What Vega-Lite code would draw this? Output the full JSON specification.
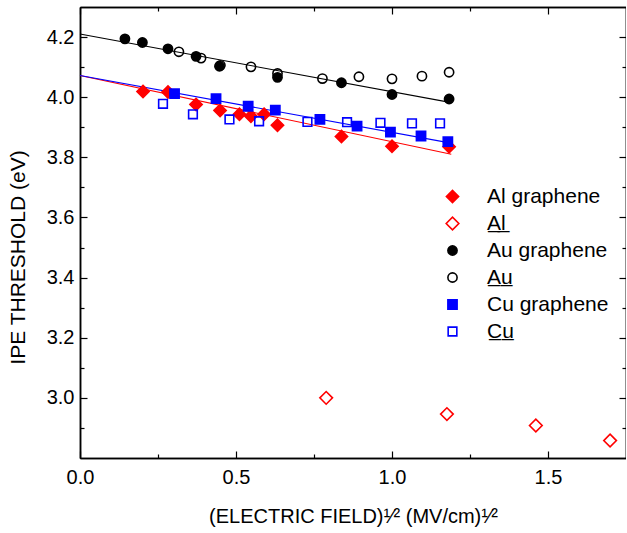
{
  "$schema": "https://vega.github.io/schema/vega-lite/v6.json",
  "autosize": {"type": "none"},
  "padding": {"left": 80, "top": 7, "right": 0, "bottom": 75},
  "width": 546,
  "height": 451,
  "background": "white",
  "config": {
    "font": "Liberation Sans",
    "view": {"stroke": null},
    "axis": {
      "grid": false,
      "domainColor": "black",
      "domainWidth": 1.5,
      "tickColor": "black",
      "tickWidth": 1.2,
      "labelColor": "black",
      "labelFontSize": 20,
      "titleFontSize": 20,
      "titleFontWeight": "normal",
      "titleColor": "black",
      "labelFont": "Liberation Sans",
      "titleFont": "Liberation Sans",
      "labelFlush": false
    },
    "legend": {"labelFont": "Liberation Sans"}
  },
  "datasets": {
    "fits": [
      {"fit": "Al", "x": 0, "y": 4.072},
      {"fit": "Al", "x": 1.19, "y": 3.81},
      {"fit": "Au", "x": 0, "y": 4.21},
      {"fit": "Au", "x": 1.19, "y": 3.982},
      {"fit": "Cu", "x": 0, "y": 4.072},
      {"fit": "Cu", "x": 1.185, "y": 3.848}
    ],
    "pts": [
      {"series": "Al graphene", "x": 0.202, "y": 4.019},
      {"series": "Al graphene", "x": 0.282, "y": 4.017},
      {"series": "Al graphene", "x": 0.372, "y": 3.976},
      {"series": "Al graphene", "x": 0.449, "y": 3.956},
      {"series": "Al graphene", "x": 0.511, "y": 3.943},
      {"series": "Al graphene", "x": 0.548, "y": 3.937},
      {"series": "Al graphene", "x": 0.590, "y": 3.943},
      {"series": "Al graphene", "x": 0.633, "y": 3.907},
      {"series": "Al graphene", "x": 0.838, "y": 3.869},
      {"series": "Al graphene", "x": 1.0, "y": 3.837},
      {"series": "Al graphene", "x": 1.183, "y": 3.835},
      {"series": "Al", "x": 0.789, "y": 3.0},
      {"series": "Al", "x": 1.176, "y": 2.946},
      {"series": "Al", "x": 1.461, "y": 2.908},
      {"series": "Al", "x": 1.699, "y": 2.858},
      {"series": "Au graphene", "x": 0.144, "y": 4.194},
      {"series": "Au graphene", "x": 0.200, "y": 4.182},
      {"series": "Au graphene", "x": 0.282, "y": 4.161},
      {"series": "Au graphene", "x": 0.372, "y": 4.136},
      {"series": "Au graphene", "x": 0.447, "y": 4.103},
      {"series": "Au graphene", "x": 0.633, "y": 4.066},
      {"series": "Au graphene", "x": 0.838, "y": 4.048},
      {"series": "Au graphene", "x": 1.0, "y": 4.009},
      {"series": "Au graphene", "x": 1.183, "y": 3.994},
      {"series": "Au", "x": 0.317, "y": 4.151},
      {"series": "Au", "x": 0.388, "y": 4.130},
      {"series": "Au", "x": 0.450, "y": 4.106},
      {"series": "Au", "x": 0.548, "y": 4.101},
      {"series": "Au", "x": 0.633, "y": 4.079},
      {"series": "Au", "x": 0.777, "y": 4.062},
      {"series": "Au", "x": 0.894, "y": 4.068},
      {"series": "Au", "x": 1.0, "y": 4.061},
      {"series": "Au", "x": 1.096, "y": 4.070},
      {"series": "Au", "x": 1.183, "y": 4.083},
      {"series": "Cu", "x": 0.266, "y": 3.978},
      {"series": "Cu", "x": 0.362, "y": 3.943},
      {"series": "Cu", "x": 0.479, "y": 3.926},
      {"series": "Cu", "x": 0.574, "y": 3.920},
      {"series": "Cu", "x": 0.729, "y": 3.918},
      {"series": "Cu", "x": 0.856, "y": 3.917},
      {"series": "Cu", "x": 0.963, "y": 3.915},
      {"series": "Cu", "x": 1.064, "y": 3.913},
      {"series": "Cu", "x": 1.154, "y": 3.913},
      {"series": "Cu graphene", "x": 0.303, "y": 4.012},
      {"series": "Cu graphene", "x": 0.436, "y": 3.995},
      {"series": "Cu graphene", "x": 0.539, "y": 3.970},
      {"series": "Cu graphene", "x": 0.626, "y": 3.957},
      {"series": "Cu graphene", "x": 0.769, "y": 3.926},
      {"series": "Cu graphene", "x": 0.888, "y": 3.904},
      {"series": "Cu graphene", "x": 0.995, "y": 3.884},
      {"series": "Cu graphene", "x": 1.093, "y": 3.871},
      {"series": "Cu graphene", "x": 1.179, "y": 3.852}
    ]
  },
  "resolve": {"axis": {"x": "independent", "y": "independent"}},
  "layer": [
    {
      "data": {"name": "fits"},
      "mark": {"type": "line", "strokeWidth": 1.1},
      "encoding": {
        "x": {"field": "x", "type": "quantitative",
          "scale": {"domain": [0, 1.75], "nice": false, "zero": false},
          "axis": {"orient": "bottom", "values": [0.25, 0.75, 1.25], "labels": false, "tickSize": -4, "title": null}},
        "y": {"field": "y", "type": "quantitative",
          "scale": {"domain": [2.8, 4.3], "nice": false, "zero": false},
          "axis": {"orient": "left", "values": [2.9, 3.1, 3.3, 3.5, 3.7, 3.9, 4.1], "labels": false, "tickSize": -4, "title": null}},
        "color": {"field": "fit", "type": "nominal",
          "scale": {"domain": ["Al", "Au", "Cu"], "range": ["#ff0000", "#000000", "#0000ff"]},
          "legend": null},
        "detail": {"field": "fit"}
      }
    },
    {
      "data": {"name": "fits"},
      "mark": {"type": "point", "opacity": 0},
      "encoding": {
        "x": {"field": "x", "type": "quantitative",
          "scale": {"domain": [0, 1.75], "nice": false, "zero": false},
          "axis": {"orient": "top", "values": [0, 0.5, 1, 1.5], "labels": false, "tickSize": -7, "title": null}},
        "y": {"field": "y", "type": "quantitative",
          "scale": {"domain": [2.8, 4.3], "nice": false, "zero": false},
          "axis": {"orient": "right", "values": [3.0, 3.2, 3.4, 3.6, 3.8, 4.0, 4.2], "labels": false, "tickSize": -7, "title": null}}
      }
    },
    {
      "data": {"name": "fits"},
      "mark": {"type": "point", "opacity": 0},
      "encoding": {
        "x": {"field": "x", "type": "quantitative",
          "scale": {"domain": [0, 1.75], "nice": false, "zero": false},
          "axis": {"orient": "top", "values": [0.25, 0.75, 1.25], "labels": false, "tickSize": -4, "title": null}},
        "y": {"field": "y", "type": "quantitative",
          "scale": {"domain": [2.8, 4.3], "nice": false, "zero": false},
          "axis": {"orient": "right", "values": [2.9, 3.1, 3.3, 3.5, 3.7, 3.9, 4.1], "labels": false, "tickSize": -4, "title": null}}
      }
    },
    {
      "data": {"name": "pts"},
      "mark": {"type": "point", "filled": true, "opacity": 1, "strokeWidth": 1.6},
      "encoding": {
        "x": {"field": "x", "type": "quantitative",
          "scale": {"domain": [0, 1.75], "nice": false, "zero": false},
          "axis": {"orient": "bottom", "values": [0, 0.5, 1, 1.5], "format": ".1f", "tickSize": -7, "labelPadding": 16,
            "title": "(ELECTRIC FIELD)¹⁄² (MV/cm)¹⁄²", "titleY": 48, "titleBaseline": "top"}},
        "y": {"field": "y", "type": "quantitative",
          "scale": {"domain": [2.8, 4.3], "nice": false, "zero": false},
          "axis": {"orient": "left", "values": [3.0, 3.2, 3.4, 3.6, 3.8, 4.0, 4.2], "format": ".1f", "tickSize": -7, "labelPadding": 13,
            "title": "IPE THRESHOLD (eV)", "titleFontSize": 21, "titleX": -52, "titleY": 250}},
        "shape": {"field": "series", "type": "nominal",
          "scale": {"domain": ["Al graphene", "Al", "Au graphene", "Au", "Cu graphene", "Cu"],
            "range": ["diamond", "diamond", "circle", "circle", "square", "square"]},
          "legend": {"title": null}},
        "size": {"field": "series", "type": "nominal",
          "scale": {"type": "ordinal", "domain": ["Al graphene", "Al", "Au graphene", "Au", "Cu graphene", "Cu"],
            "range": [150, 160, 85, 85, 85, 75]},
          "legend": {"title": null}},
        "fill": {"field": "series", "type": "nominal",
          "scale": {"domain": ["Al graphene", "Al", "Au graphene", "Au", "Cu graphene", "Cu"],
            "range": ["#ff0000", "transparent", "#000000", "transparent", "#0000ff", "transparent"]},
          "legend": {"title": null}},
        "stroke": {"field": "series", "type": "nominal",
          "scale": {"domain": ["Al graphene", "Al", "Au graphene", "Au", "Cu graphene", "Cu"],
            "range": ["#ff0000", "#ff0000", "#000000", "#000000", "#0000ff", "#0000ff"]},
          "legend": {"title": null, "orient": "none", "legendX": 362, "legendY": 179, "padding": 0,
            "labelFontSize": 21, "labelColor": "black", "labelOffset": 24, "rowPadding": 5, "symbolStrokeWidth": 1.6,
            "labelExpr": "datum.label == 'Al' ? 'A̲l̲' : datum.label == 'Au' ? 'A̲u̲' : datum.label == 'Cu' ? 'C̲u̲' : datum.label"}}
      }
    }
  ]
}
